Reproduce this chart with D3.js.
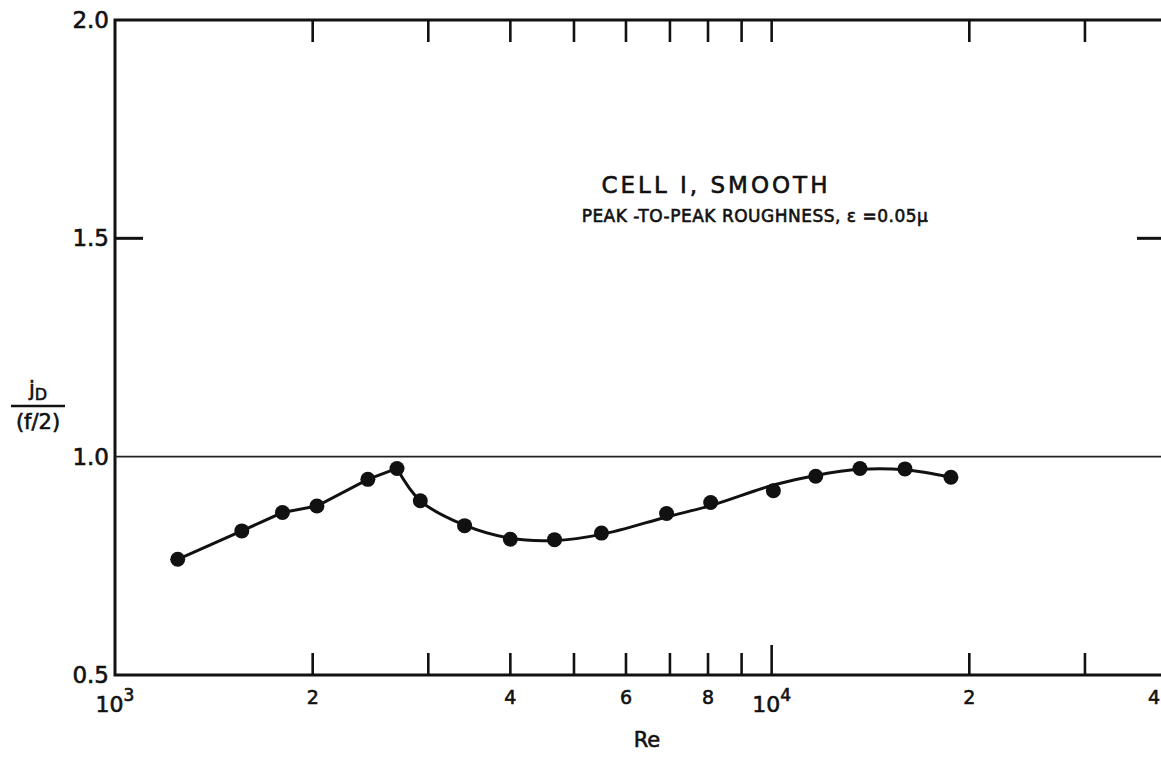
<!DOCTYPE html>
<html>
<head>
<meta charset="utf-8">
<script src="https://cdn.jsdelivr.net/npm/d3@7"></script>
<style>
  body { margin: 0; background: #fff; }
  svg { display: block; }
  text { font-family: "DejaVu Sans", "Liberation Sans", sans-serif; fill: #111; stroke: #111; stroke-width: 0.6px; }
</style>
</head>
<body>
<div id="chart"></div>
<script>
// measured points, Re vs jD/(f/2)
const reValues = [1246, 1560, 1799, 2030, 2427, 2688, 2917, 3407, 4000, 4670, 5506, 6918, 8075, 10060, 11670, 13630, 15960, 18750]
const jdValues = [0.765, 0.830, 0.872, 0.887, 0.948, 0.973, 0.899, 0.842, 0.811, 0.810, 0.825, 0.870, 0.895, 0.922, 0.955, 0.973, 0.972, 0.953]

// hand drawn curve: straight part up to the peak, then smooth part
const lineRe = [1246, 1560, 1799, 2030, 2427, 2688]
const lineJd = [0.765, 0.830, 0.872, 0.887, 0.948, 0.973]
const curveRe = [2688, 2917, 3407, 4000, 4670, 5506, 6918, 8075, 10060, 11670, 13630, 15960, 18750]
const curveJd = [0.973, 0.899, 0.843, 0.813, 0.808, 0.822, 0.862, 0.888, 0.935, 0.957, 0.971, 0.970, 0.953]

// axis ticks and labels
const xTicks = [2000, 3000, 4000, 5000, 6000, 7000, 8000, 9000, 10000, 20000, 30000]
const xLabels = [[1000, '10', '3'], [2000, '2'], [4000, '4'], [6000, '6'], [8000, '8'], [10000, '10', '4'], [20000, '2'], [40000, '4']]
const yLabels = [2.0, 1.5, 1.0, 0.5]

const width = 1161
const height = 757

let svg = d3.select('#chart')
    .append('svg')
    .attr('width', width)
    .attr('height', height)

const x = d3.scaleLog().domain([1000, 40000]).range([115, 1167])
const y = d3.scaleLinear().domain([0.5, 2.0]).range([675, 20])

// frame
svg.append('rect')
    .attr('x', x(1000))
    .attr('y', y(2.0))
    .attr('width', x(40000) - x(1000))
    .attr('height', y(0.5) - y(2.0))
    .attr('fill', 'none')
    .attr('stroke', '#111')
    .attr('stroke-width', 3)

// 1.0 reference line
svg.append('line')
    .attr('x1', x(1000)).attr('x2', x(40000))
    .attr('y1', y(1.0)).attr('y2', y(1.0))
    .attr('stroke', '#222')
    .attr('stroke-width', 1.6)

// 1.5 ticks on both sides
svg.append('line')
    .attr('x1', x(1000)).attr('x2', x(1000) + 28)
    .attr('y1', y(1.5)).attr('y2', y(1.5))
    .attr('stroke', '#111').attr('stroke-width', 3)
svg.append('line')
    .attr('x1', x(40000) - 30).attr('x2', x(40000))
    .attr('y1', y(1.5)).attr('y2', y(1.5))
    .attr('stroke', '#111').attr('stroke-width', 3)

// bottom and top ticks
let ticks = svg.append('g').attr('stroke', '#111').attr('stroke-width', 2.6)
ticks.selectAll('.tb')
    .data(xTicks)
    .enter()
    .append('line')
    .attr('x1', d => x(d)).attr('x2', d => x(d))
    .attr('y1', y(0.5))
    .attr('y2', d => y(0.5) - (d === 10000 ? 30 : 22))
ticks.selectAll('.tt')
    .data(xTicks)
    .enter()
    .append('line')
    .attr('x1', d => x(d)).attr('x2', d => x(d))
    .attr('y1', y(2.0))
    .attr('y2', y(2.0) + 22)

// y labels
svg.selectAll('.ylab')
    .data(yLabels)
    .enter()
    .append('text')
    .attr('x', 109)
    .attr('y', d => y(d) + 8)
    .attr('text-anchor', 'end')
    .attr('font-size', 23)
    .text(d => d.toFixed(1))

// x labels, powers of ten get a superscript; the last one sits at the edge
let xl = svg.selectAll('.xlab')
    .data(xLabels)
    .enter()
    .append('text')
    .attr('x', d => d[0] === 40000 ? 1160 : x(d[0]))
    .attr('y', d => d[2] ? 712 : 704)
    .attr('text-anchor', d => d[0] === 40000 ? 'end' : 'middle')
    .attr('font-size', d => d[2] ? 22 : 19)
xl.append('tspan').text(d => d[1])
xl.filter(d => d[2])
    .append('tspan')
    .attr('dy', -11)
    .attr('font-size', 17)
    .text(d => d[2])

// axis titles
svg.append('text')
    .attr('x', 647).attr('y', 747)
    .attr('text-anchor', 'middle')
    .attr('font-size', 21)
    .text('Re')

let yt = svg.append('g').attr('transform', 'translate(38,0)')
let jd = yt.append('text')
    .attr('x', 0).attr('y', 396)
    .attr('text-anchor', 'middle')
    .attr('font-size', 21)
jd.append('tspan').text('j')
jd.append('tspan').attr('font-size', 16).attr('dy', 4).text('D')
yt.append('line')
    .attr('x1', -27).attr('x2', 27)
    .attr('y1', 406).attr('y2', 406)
    .attr('stroke', '#111').attr('stroke-width', 2.5)
yt.append('text')
    .attr('x', 0).attr('y', 429)
    .attr('text-anchor', 'middle')
    .attr('font-size', 21)
    .text('(f/2)')

// annotations
svg.append('text')
    .attr('x', 716).attr('y', 193)
    .attr('text-anchor', 'middle')
    .attr('font-size', 23)
    .attr('letter-spacing', 3)
    .text('CELL I, SMOOTH')
svg.append('text')
    .attr('x', 755).attr('y', 222)
    .attr('text-anchor', 'middle')
    .attr('font-size', 17)
    .attr('letter-spacing', 0.5)
    .text('PEAK -TO-PEAK ROUGHNESS, \u03b5 =0.05\u03bc')

// fitted curve
const path = d3.line().x(d => x(d[0])).y(d => y(d[1]))
svg.append('path')
    .attr('d', path(d3.zip(lineRe, lineJd)))
    .attr('fill', 'none')
    .attr('stroke', '#111')
    .attr('stroke-width', 3)
svg.append('path')
    .attr('d', path.curve(d3.curveCatmullRom.alpha(0.5))(d3.zip(curveRe, curveJd)))
    .attr('fill', 'none')
    .attr('stroke', '#111')
    .attr('stroke-width', 3)

// data points
svg.selectAll('.pt')
    .data(d3.zip(reValues, jdValues))
    .enter()
    .append('circle')
    .attr('cx', d => x(d[0]))
    .attr('cy', d => y(d[1]))
    .attr('r', 7.5)
    .attr('fill', '#111')
</script>
</body>
</html>
